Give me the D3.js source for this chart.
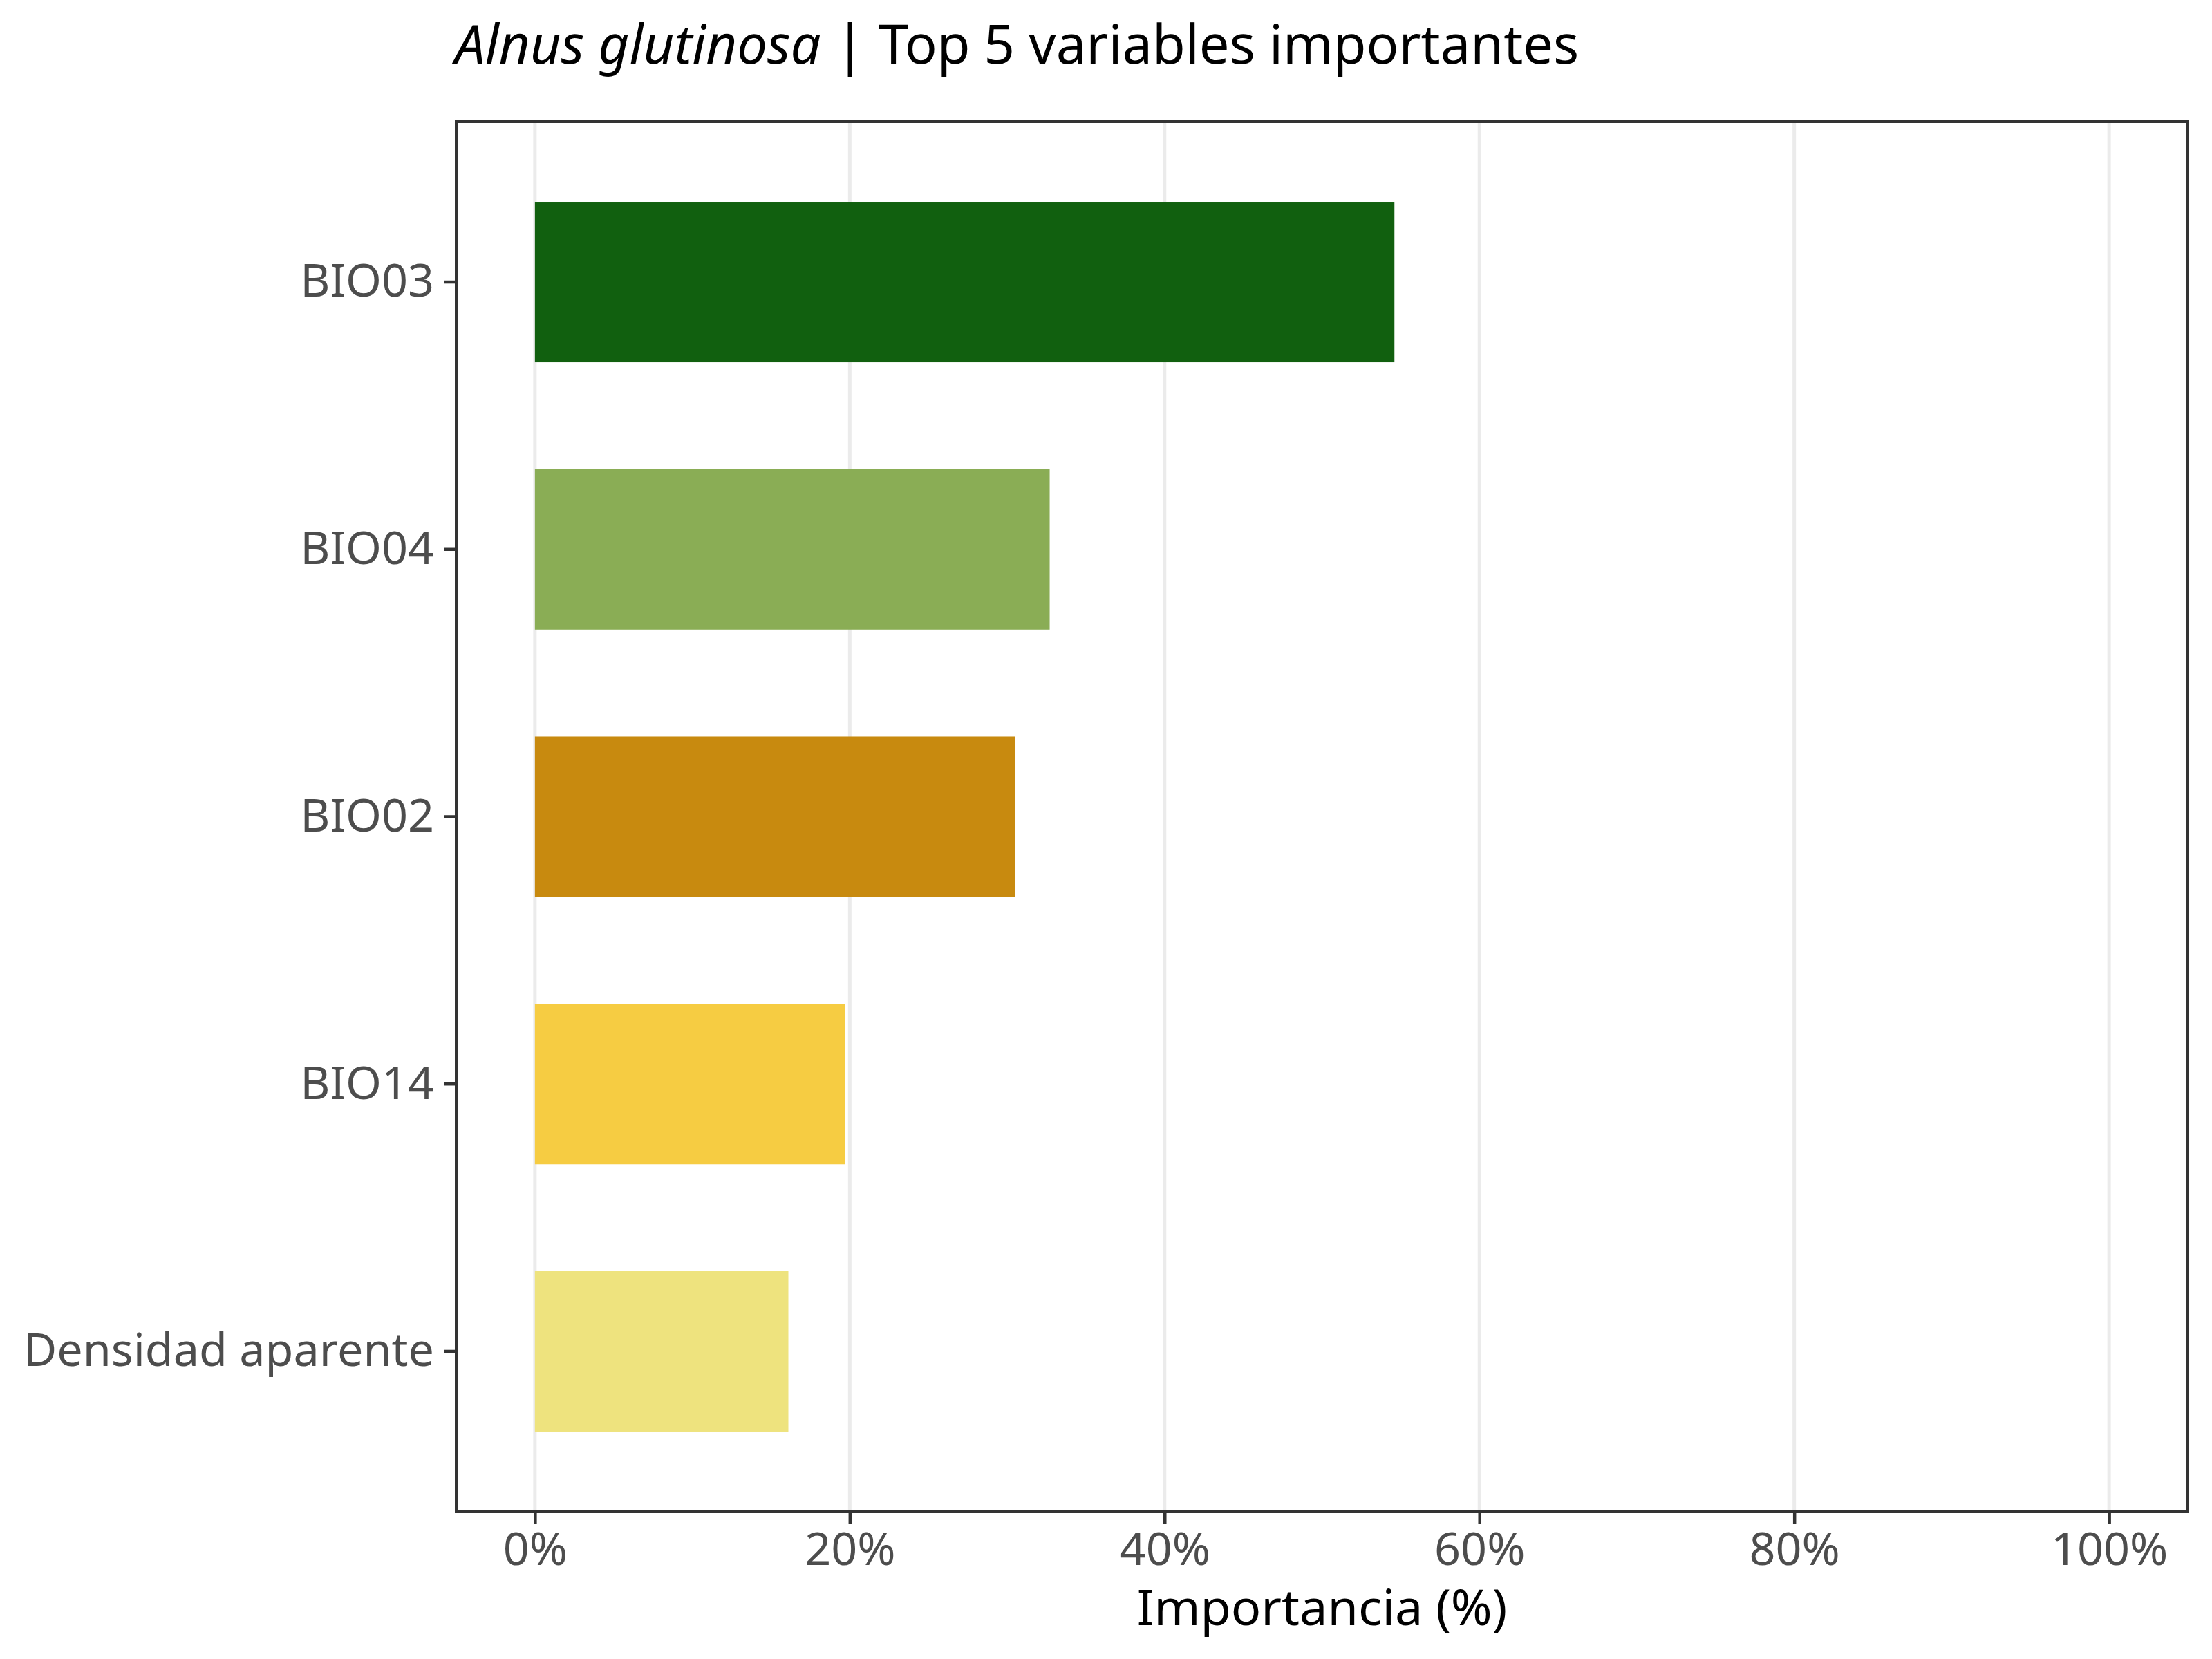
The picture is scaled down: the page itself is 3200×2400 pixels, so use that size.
<!DOCTYPE html>
<html>
<head>
<meta charset="utf-8">
<script src="https://cdn.jsdelivr.net/npm/d3@7"></script>
<style>
  body { margin: 0; background: #fff; }
  svg { display: block; font-family: "Noto Sans", "Open Sans", sans-serif; }
</style>
</head>
<body>
<svg id="chart"></svg>
<script>
// data (top to bottom)
const variables = ["BIO03", "BIO04", "BIO02", "BIO14", "Densidad aparente"];
const importance = [54.6, 32.7, 30.5, 19.7, 16.1];
const barColors = ["#11600f", "#8aad55", "#c88a0f", "#f6cc42", "#eee37e"];
const xTicks = [0, 20, 40, 60, 80, 100];

const W = 3200, H = 2400;
const panel = { left: 660, right: 3165, top: 176, bottom: 2187 };

const svg = d3.select("#chart").attr("width", W).attr("height", H);

const x = d3.scaleLinear()
  .domain([-5, 105])
  .range([panel.left, panel.right]);

const y = d3.scaleBand()
  .domain(variables)
  .range([panel.top, panel.bottom])
  .paddingInner(0.4)
  .paddingOuter(0.3);

// panel background + vertical grid
svg.append("rect")
  .attr("x", panel.left).attr("y", panel.top)
  .attr("width", panel.right - panel.left)
  .attr("height", panel.bottom - panel.top)
  .attr("fill", "#fff");

svg.append("g")
  .selectAll("line")
  .data(xTicks)
  .enter()
  .append("line")
  .attr("x1", (d) => x(d)).attr("x2", (d) => x(d))
  .attr("y1", panel.top).attr("y2", panel.bottom)
  .attr("stroke", "#ebebeb")
  .attr("stroke-width", 5);

// bars
svg.append("g")
  .selectAll("rect")
  .data(variables)
  .enter()
  .append("rect")
  .attr("x", x(0))
  .attr("y", (d) => y(d))
  .attr("width", (d, i) => x(importance[i]) - x(0))
  .attr("height", y.bandwidth())
  .attr("fill", (d, i) => barColors[i]);

// panel border
svg.append("rect")
  .attr("x", panel.left).attr("y", panel.top)
  .attr("width", panel.right - panel.left)
  .attr("height", panel.bottom - panel.top)
  .attr("fill", "none")
  .attr("stroke", "#333333")
  .attr("stroke-width", 4);

// axes
const xAxis = d3.axisBottom(x)
  .tickValues(xTicks)
  .tickFormat((d) => d + "%")
  .tickSize(18)
  .tickPadding(12);

const gx = svg.append("g")
  .attr("transform", `translate(0,${panel.bottom})`)
  .call(xAxis);

const yAxis = d3.axisLeft(y)
  .tickSize(18)
  .tickPadding(14);

const gy = svg.append("g")
  .attr("transform", `translate(${panel.left},0)`)
  .call(yAxis);

[gx, gy].forEach((g) => {
  g.select(".domain").remove();
  g.selectAll(".tick line").attr("stroke", "#333333").attr("stroke-width", 4.5);
  g.selectAll(".tick text")
    .attr("fill", "#4d4d4d")
    .style("font-size", "66.5px")
    .style("font-family", '"Noto Sans", sans-serif');
});

// axis title
svg.append("text")
  .attr("x", (panel.left + panel.right) / 2)
  .attr("y", 2351)
  .attr("text-anchor", "middle")
  .style("font-size", "72px")
  .attr("fill", "#000")
  .text("Importancia (%)");

// title
const title = svg.append("text")
  .attr("x", panel.left - 2)
  .attr("y", 92)
  .style("font-size", "77.7px")
  .attr("fill", "#000");

title.append("tspan").style("font-style", "italic").text("Alnus glutinosa");
title.append("tspan").text(" | Top 5 variables importantes");
</script>
</body>
</html>
